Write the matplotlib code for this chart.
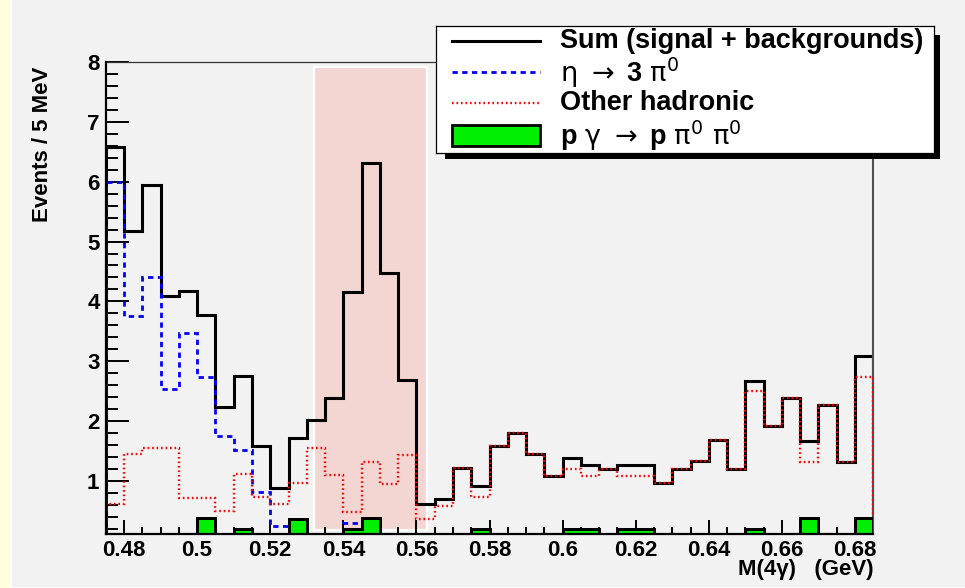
import numpy as np
import matplotlib
matplotlib.use("Agg")
import matplotlib.pyplot as plt
from matplotlib.patches import Rectangle
from matplotlib.ticker import MultipleLocator, FixedLocator, FixedFormatter
from matplotlib.lines import Line2D

# ---------------- data ----------------
bin_low, bin_high, n_bins = 0.475, 0.685, 42
bin_edges = np.linspace(bin_low, bin_high, n_bins + 1)

sum_vals = [6.58, 5.18, 5.94, 4.09, 4.17, 3.78, 2.24, 2.76, 1.58, 0.88,
            1.71, 2.02, 2.38, 4.15, 6.31, 4.47, 2.69, 0.61, 0.69, 1.21,
            0.91, 1.58, 1.80, 1.45, 1.09, 1.39, 1.27, 1.20, 1.27, 1.27,
            0.96, 1.20, 1.33, 1.68, 1.20, 2.67, 1.92, 2.38, 1.66, 2.27,
            1.32, 3.09]
eta3pi_vals = [6.00, 3.76, 4.41, 2.53, 3.48, 2.73, 1.75, 1.52, 0.81, 0.24,
               0.37, 0.00, 0.00, 0.30, 0.00, 0.00, 0.00, 0.00, 0.00, 0.00,
               0.00, 0.00, 0.00, 0.00, 0.00, 0.00, 0.00, 0.00, 0.00, 0.00,
               0.00, 0.00, 0.00, 0.00, 0.00, 0.00, 0.00, 0.00, 0.00, 0.00,
               0.00, 0.00]
other_vals = [0.62, 1.45, 1.55, 1.55, 0.71, 0.71, 0.50, 1.12, 0.73, 0.62,
              0.96, 1.55, 1.10, 0.48, 1.32, 0.95, 1.43, 0.37, 0.58, 1.21,
              0.73, 1.58, 1.80, 1.45, 1.09, 1.20, 1.08, 1.20, 1.09, 1.09,
              0.96, 1.20, 1.33, 1.68, 1.20, 2.50, 1.92, 2.38, 1.32, 2.27,
              1.32, 2.74]
ppi0pi0_vals = [0.00, 0.00, 0.00, 0.00, 0.00, 0.38, 0.00, 0.19, 0.00, 0.00,
                0.37, 0.00, 0.00, 0.19, 0.38, 0.00, 0.00, 0.00, 0.00, 0.00,
                0.19, 0.00, 0.00, 0.00, 0.00, 0.19, 0.19, 0.00, 0.19, 0.19,
                0.00, 0.00, 0.00, 0.00, 0.00, 0.19, 0.00, 0.00, 0.38, 0.00,
                0.00, 0.38]

signal_window = (0.5319, 0.5628)
window_y = (0.18, 7.91)

x_ticks = [0.48, 0.50, 0.52, 0.54, 0.56, 0.58, 0.60, 0.62, 0.64, 0.66, 0.68]
x_ticklabels = ["0.48", "0.5", "0.52", "0.54", "0.56", "0.58", "0.6",
                "0.62", "0.64", "0.66", "0.68"]
y_ticks = [1, 2, 3, 4, 5, 6, 7, 8]
y_ticklabels = ["1", "2", "3", "4", "5", "6", "7", "8"]

legend_labels = ["Sum (signal + backgrounds)",
                 r"$\mathrm{\eta}\ \rightarrow$ 3 $\mathrm{\pi}^{0}$",
                 "Other hadronic",
                 r"p $\mathrm{\gamma}\ \rightarrow$ p $\mathrm{\pi}^{0}\ \mathrm{\pi}^{0}$"]

# ---------------- style ----------------
W, H = 965, 588
DPI = 100
FONT = ["Liberation Sans", "DejaVu Sans"]
plt.rcParams["font.family"] = FONT
plt.rcParams["mathtext.fontset"] = "dejavusans"

YELLOW = "#ffffdc"
GRAY = "#f2f2f2"
PINK = "#f3d5d1"
GREEN = "#00ee00"


def fx(px):
    return px / W


def fy(py):
    return 1 - py / H


fig = plt.figure(figsize=(W / DPI, H / DPI), dpi=DPI, facecolor=YELLOW)

# canvas panel
fig.patches.append(Rectangle((fx(11), 0), 1 - fx(11) + 0.01, fy(5) + 0.01,
                             transform=fig.transFigure, facecolor=GRAY,
                             edgecolor="white", linewidth=1.5, zorder=-5))

ax_l, ax_r, ax_t, ax_b = 105.75, 873.3, 62.0, 534.2
ax = fig.add_axes([fx(ax_l), fy(ax_b), fx(ax_r - ax_l), (ax_b - ax_t) / H])
ax.set_facecolor(GRAY)
ax.set_xlim(bin_low, bin_high)
ax.set_ylim(0.11, 8)

# signal window
ax.add_patch(Rectangle((signal_window[0], window_y[0]),
                       signal_window[1] - signal_window[0],
                       window_y[1] - window_y[0],
                       facecolor=PINK, edgecolor="white", linewidth=1.6,
                       zorder=0.5))

ax.stairs(sum_vals, bin_edges, color="black", linewidth=2.2, zorder=2)
ax.stairs(eta3pi_vals, bin_edges, color="#0000ff", linewidth=2.0,
          linestyle=(0, (1.9, 1.6)), zorder=3)
ax.stairs(other_vals, bin_edges, color="#ff0000", linewidth=1.7,
          linestyle=(0, (0.7, 1.2)), zorder=4)
ax.stairs(ppi0pi0_vals, bin_edges, fill=True, facecolor=GREEN,
          edgecolor="black", linewidth=2.0, baseline=0, zorder=5)
ax.stairs(ppi0pi0_vals, bin_edges, color="black", linewidth=2.0,
          baseline=0, zorder=5)

# axes styling
for side in ["left", "bottom"]:
    ax.spines[side].set_linewidth(1.6)
    ax.spines[side].set_color("black")
    ax.spines[side].set_zorder(6)
ax.spines["top"].set_linewidth(0.9)
ax.spines["top"].set_color("#333333")
ax.spines["right"].set_linewidth(1.5)
ax.spines["right"].set_color("#505050")

ax.xaxis.set_major_locator(FixedLocator(x_ticks))
ax.xaxis.set_major_formatter(FixedFormatter(x_ticklabels))
ax.xaxis.set_minor_locator(MultipleLocator(0.005))
ax.yaxis.set_major_locator(FixedLocator(y_ticks))
ax.yaxis.set_major_formatter(FixedFormatter(y_ticklabels))
ax.yaxis.set_minor_locator(MultipleLocator(0.2))

ax.tick_params(axis="y", which="major", direction="in", length=16.5,
               width=1.4, pad=4.5, labelsize=16)
ax.tick_params(axis="y", which="minor", direction="in", length=8.6,
               width=1.4)
ax.tick_params(axis="x", which="major", direction="in", length=10,
               width=1.4, pad=4.5, labelsize=16)
ax.tick_params(axis="x", which="minor", direction="in", length=5.4,
               width=1.4)
for lab in ax.get_xticklabels() + ax.get_yticklabels():
    lab.set_fontweight("bold")

fig.text(fx(43), fy(67), "Events / 5 MeV", rotation=90, ha="center",
         va="top", fontsize=16, fontweight="bold")
fig.text(fx(873.5), fy(570), "M(4γ)   (GeV)", ha="right", va="center",
         fontsize=16, fontweight="bold")

# ---------------- legend ----------------
lg_l, lg_r, lg_t, lg_b = 436, 934, 25.7, 153.3
shadow = fig.add_axes([fx(445), fy(158.5), fx(939.5 - 445),
                       (158.5 - 35) / H])
shadow.set_facecolor("black")
shadow.set_xticks([])
shadow.set_yticks([])
for s in shadow.spines.values():
    s.set_visible(False)

lg = fig.add_axes([fx(lg_l), fy(lg_b), fx(lg_r - lg_l), (lg_b - lg_t) / H])
lg.set_facecolor("white")
lg.set_xlim(lg_l, lg_r)
lg.set_ylim(lg_b, lg_t)
lg.set_xticks([])
lg.set_yticks([])
for s in lg.spines.values():
    s.set_linewidth(0.9)
    s.set_color("black")

rows_y = [41, 72.3, 102.7, 135.3]
line_x = (452.3, 540)
lg.add_line(Line2D(line_x, [rows_y[0]] * 2, color="black", linewidth=2.2))
lg.add_line(Line2D(line_x, [rows_y[1]] * 2, color="#0000ff", linewidth=2.0,
                   linestyle=(0, (1.9, 1.6))))
lg.add_line(Line2D(line_x, [rows_y[2]] * 2, color="#ff0000", linewidth=1.7,
                   linestyle=(0, (0.7, 1.2))))
lg.add_patch(Rectangle((line_x[0], 124.5), line_x[1] - line_x[0], 22,
                       facecolor=GREEN, edgecolor="black", linewidth=2.0))
for yy, lab in zip(rows_y, legend_labels):
    lg.text(560, yy, lab, ha="left", va="center", fontsize=19.5,
            fontweight="bold", family=FONT)

fig.savefig("out.png", dpi=DPI, facecolor=YELLOW)
